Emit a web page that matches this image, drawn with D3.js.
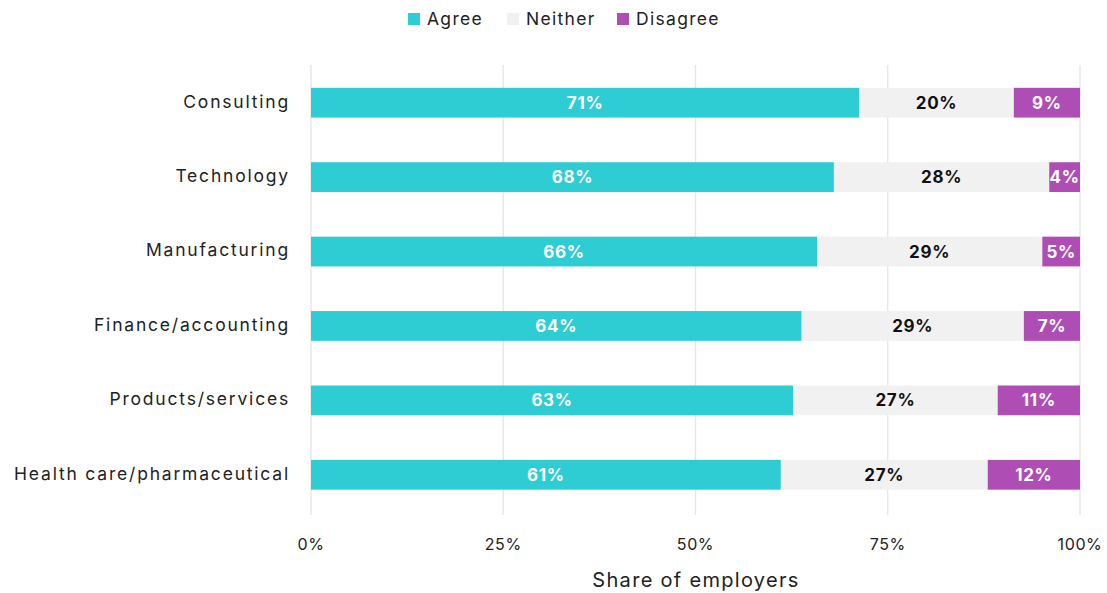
<!DOCTYPE html>
<html><head><meta charset="utf-8">
<script src="https://cdn.jsdelivr.net/npm/d3@7"></script>
<style>body{margin:0;background:#fff}svg{display:block;font-family:Inter,"Open Sans",sans-serif}</style>
</head><body><svg id="c" width="1107" height="593"></svg>
<script>
const categories = ["Consulting","Technology","Manufacturing","Finance/accounting","Products/services","Health care/pharmaceutical"];
const agree =    [71.3, 68.0, 65.8, 63.8, 62.7, 61.1];
const neither =  [20.1, 28.0, 29.3, 28.9, 26.6, 26.9];
const disagree = [8.6, 4.0, 4.9, 7.3, 10.7, 12.0];
const seriesNames = ["Agree","Neither","Disagree"];
const colors = ["#2ECCD3","#F1F1F1","#AE4EB4"];
const labelColors = ["#ffffff","#111111","#ffffff"];
const ticks = [0,25,50,75,100];

const svg = d3.select("#c");
const x = d3.scaleLinear().domain([0,100]).range([311,1080]);
const y = d3.scaleBand().domain(categories).range([65.5,512]).paddingInner(0.6).paddingOuter(0.3);

// grid
svg.append("g").selectAll("line").data(ticks).join("line")
  .attr("x1",d=>x(d)).attr("x2",d=>x(d)).attr("y1",65).attr("y2",515)
  .attr("stroke","#e5e5e5").attr("stroke-width",1.3);

const data = categories.map((c,i)=>({cat:c,Agree:agree[i],Neither:neither[i],Disagree:disagree[i]}));
const stack = d3.stack().keys(seriesNames)(data);

stack.forEach((s,si)=>{
  const g = svg.append("g");
  g.selectAll("rect").data(s).join("rect")
    .attr("x",d=>x(d[0])).attr("width",d=>x(d[1])-x(d[0]))
    .attr("y",d=>y(d.data.cat)).attr("height",y.bandwidth())
    .attr("fill",colors[si]);
  g.selectAll("text").data(s).join("text")
    .attr("x",d=>(x(d[0])+x(d[1]))/2).attr("y",d=>y(d.data.cat)+y.bandwidth()/2)
    .attr("dy","0.36em").attr("text-anchor","middle")
    .attr("fill",labelColors[si]).attr("font-weight",700).attr("font-size",17).attr("letter-spacing",0.7)
    .text(d=>Math.round(d[1]-d[0])+"%");
});

// y labels
svg.append("g").selectAll("text").data(categories).join("text")
  .attr("x",290).attr("y",d=>y(d)+y.bandwidth()/2).attr("dy","0.28em")
  .attr("text-anchor","end").attr("font-size",17.5).attr("letter-spacing",1.8).attr("fill","#222").text(d=>d);

// x ticks
svg.append("g").selectAll("text").data(ticks).join("text")
  .attr("x",d=>x(d)).attr("y",544).attr("dy","0.36em").attr("text-anchor","middle")
  .attr("font-size",16).attr("letter-spacing",0.6).attr("fill","#222").text(d=>d+"%");

svg.append("text").attr("x",696).attr("y",580).attr("dy","0.36em").attr("text-anchor","middle")
  .attr("font-size",20).attr("letter-spacing",1.3).attr("fill","#222").text("Share of employers");

// legend
const legX = [408,507,617];
const lg = svg.append("g");
seriesNames.forEach((n,i)=>{
  lg.append("rect").attr("x",legX[i]).attr("y",13).attr("width",12).attr("height",12).attr("fill",colors[i]);
  lg.append("text").attr("x",legX[i]+19).attr("y",19).attr("dy","0.36em").attr("font-size",17.5).attr("letter-spacing",1.3).attr("fill","#222").text(n);
});
</script></body></html>
